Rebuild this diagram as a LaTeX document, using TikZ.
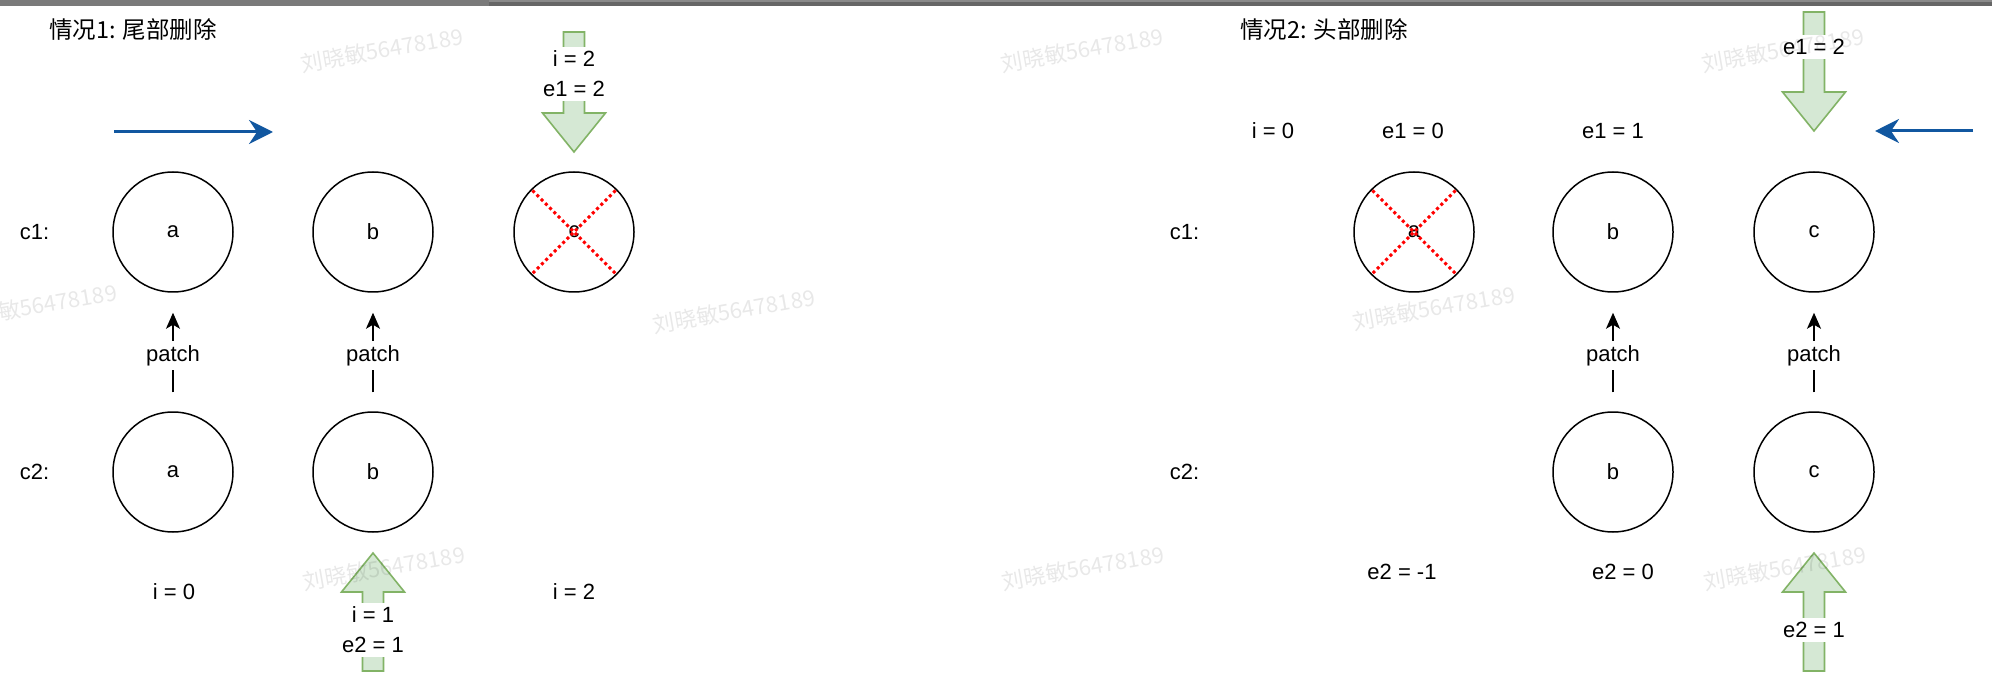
\documentclass[tikz,border=0pt]{standalone}
\usepackage{fontspec}
\setmainfont{Liberation Sans}
\newfontfamily\cjk{Noto Sans CJK SC}
\usetikzlibrary{arrows.meta}
\definecolor{gfill}{HTML}{D5E8D4}
\definecolor{gstroke}{HTML}{82B366}
\definecolor{bluec}{HTML}{1157A0}
\definecolor{barA}{HTML}{7A7A7A}
\definecolor{barB}{HTML}{666666}
\definecolor{barC}{HTML}{8A8A8A}
\newcommand\myfs{\fontsize{22}{30}\selectfont}
\newcommand\titlefs{\fontsize{23.5}{28}\selectfont}
\newcommand\wmfs{\fontsize{22}{26}\selectfont}
\newcommand\gArrow[4]{\draw[garrow] (#1-10.5,#2) -- (#1+10.5,#2) -- (#1+10.5,#3) -- (#1+31.5,#3) -- (#1,#4) -- (#1-31.5,#3) -- (#1-10.5,#3) -- cycle;}
\begin{document}
\begin{tikzpicture}[x=1pt,y=-1pt,
  circ/.style={circle, draw, line width=1.5pt, minimum size=120pt, inner sep=0pt, font=\myfs},
  lbl/.style={font=\myfs, inner sep=0pt},
  wlbl/.style={font=\myfs, fill=white, inner sep=4pt, align=center},
  ttl/.style={font=\titlefs\cjk, inner sep=0pt, anchor=west},
  garrow/.style={draw=gstroke, fill=gfill, line width=1.6pt, line join=miter},
  barrow/.style={draw=bluec, line width=3pt, -{Stealth[length=24pt,width=24pt,inset=8pt,fill=bluec]}},
  patcharrow/.style={line width=1.5pt, -{Stealth[length=16pt,width=14pt,inset=4pt]}, shorten >=20pt, shorten <=19pt},
  xline/.style={draw=red, line width=3pt, dash pattern=on 3pt off 3pt, shorten >=2pt, shorten <=2pt},
  wm/.style={font=\wmfs\cjk, text=black, text opacity=0.09, rotate=10, inner sep=0pt}
]
\useasboundingbox (0,0) rectangle (1992,676);
\fill[white] (0,0) rectangle (1992,676);
% top bar
\fill[barA] (0,0) rectangle (489,6);
\fill[barC] (489,0) rectangle (1992,2);
\fill[barB] (489,2) rectangle (1992,6);

% ===== Case 1 =====
\node[ttl] (t1) at (49,30) {情况1: 尾部删除};
\coordinate (b1s) at (114,132);
\coordinate (b1e) at (273,132);
\draw[barrow] (b1s) -- (b1e);

\node[lbl] (c1L) at (34.5,232) {c1:};
\node[lbl] (c2L) at (34.5,472) {c2:};

\node[circ] (L1a) at (173,232) {a};
\node[circ] (L1b) at (373,232) {b};
\node[circ] (L1c) at (574,232) {c};
\node[circ] (L2a) at (173,472) {a};
\node[circ] (L2b) at (373,472) {b};

\draw[xline] (L1c.135) -- (L1c.-45);
\draw[xline] (L1c.45) -- (L1c.-135);

\draw[patcharrow] (L2a) -- node[wlbl, pos=0.47] (p1) {patch} (L1a);
\draw[patcharrow] (L2b) -- node[wlbl, pos=0.47] (p2) {patch} (L1b);

\gArrow{574}{32}{113}{152}
\node[wlbl] (g1) at (574,74) {i = 2\\e1 = 2};
\gArrow{373}{671}{592}{553}
\node[wlbl] (g2) at (373,630) {i = 1\\e2 = 1};

\node[lbl] (i0L) at (174,592) {i = 0};
\node[lbl] (i2L) at (574,592) {i = 2};

% ===== Case 2 =====
\node[ttl] (t2) at (1240,30) {情况2: 头部删除};
\coordinate (b2s) at (1973,131);
\coordinate (b2e) at (1875,131);
\draw[barrow] (b2s) -- (b2e);

\node[lbl] (c1R) at (1184.5,232) {c1:};
\node[lbl] (c2R) at (1184.5,472) {c2:};

\node[lbl] (i0R) at (1273,131) {i = 0};
\node[lbl] (e10R) at (1413,131) {e1 = 0};
\node[lbl] (e11R) at (1613,131) {e1 = 1};

\node[circ] (R1a) at (1414,232) {a};
\node[circ] (R1b) at (1613,232) {b};
\node[circ] (R1c) at (1814,232) {c};
\node[circ] (R2b) at (1613,472) {b};
\node[circ] (R2c) at (1814,472) {c};

\draw[xline] (R1a.135) -- (R1a.-45);
\draw[xline] (R1a.45) -- (R1a.-135);

\draw[patcharrow] (R2b) -- node[wlbl, pos=0.47] (p3) {patch} (R1b);
\draw[patcharrow] (R2c) -- node[wlbl, pos=0.47] (p4) {patch} (R1c);

\gArrow{1814}{12}{92}{131}
\node[wlbl] (g3) at (1814,47) {e1 = 2};
\gArrow{1814}{671}{592}{553}
\node[wlbl] (g4) at (1814,630) {e2 = 1};

\node[lbl] (e2mR) at (1402,572) {e2 = -1};
\node[lbl] (e20R) at (1623,572) {e2 = 0};

% ===== watermarks =====
\node[wm] (wm1) at (382,50) {刘晓敏56478189};
\node[wm] (wm2) at (1082,50) {刘晓敏56478189};
\node[wm] (wm3) at (1783,50) {刘晓敏56478189};
\node[wm] (wm4) at (36,306) {刘晓敏56478189};
\node[wm] (wm5) at (734,311) {刘晓敏56478189};
\node[wm] (wm6) at (1434,308) {刘晓敏56478189};
\node[wm] (wm7) at (384,568) {刘晓敏56478189};
\node[wm] (wm8) at (1083,568) {刘晓敏56478189};
\node[wm] (wm9) at (1785,568) {刘晓敏56478189};
\end{tikzpicture}
\end{document}
